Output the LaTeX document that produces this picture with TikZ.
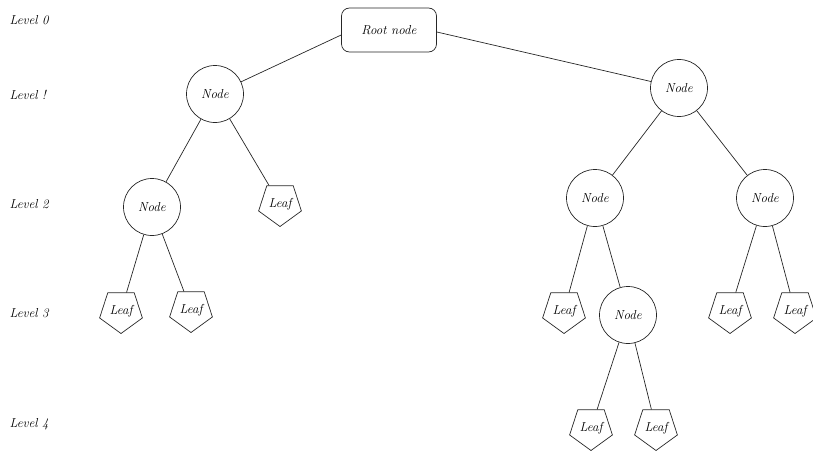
\documentclass[tikz,border=0pt]{standalone}
\usetikzlibrary{shapes.geometric,calc}
\begin{document}
\begin{tikzpicture}[x=1pt,y=-1pt,
  every node/.style={font=\fontsize{13}{15}\selectfont\itshape},
  treenode/.style={draw=black!85,line width=0.7pt,circle,minimum size=57pt,inner sep=0pt},
  leafnode/.style={draw=black!85,line width=0.7pt,regular polygon,regular polygon sides=5,shape border rotate=180,minimum size=45pt,inner sep=0pt},
  rootbox/.style={draw=black!85,line width=0.7pt,rounded corners=8pt,minimum width=95pt,minimum height=44pt,inner sep=0pt},
  lvl/.style={anchor=west},
  edge/.style={draw=black!85,line width=0.7pt}]
\useasboundingbox (0,0) rectangle (813,452);
% level labels
\node[lvl] (l0) at (6,20) {Level 0};
\node[lvl] (l1) at (6,95) {Level !};
\node[lvl] (l2) at (6,204) {Level 2};
\node[lvl] (l3) at (6,313) {Level 3};
\node[lvl] (l4) at (6,424) {Level 4};
% nodes
\node[rootbox] (root) at (389,30) {Root node};
\node[treenode] (a) at (215,94) {Node};
\node[treenode] (b) at (679,88) {Node};
\node[treenode] (aa) at (152,207) {Node};
\node[leafnode] (ab) at (280,204) {Leaf};
\node[treenode] (ba) at (595,198) {Node};
\node[treenode] (bb) at (765,198) {Node};
\node[leafnode] (aaa) at (121,311) {Leaf};
\node[leafnode] (aab) at (191,310) {Leaf};
\node[leafnode] (baa) at (564,311) {Leaf};
\node[treenode] (bab) at (628,315) {Node};
\node[leafnode] (bba) at (730,311) {Leaf};
\node[leafnode] (bbb) at (795,311) {Leaf};
\node[leafnode] (baba) at (591,428) {Leaf};
\node[leafnode] (babb) at (656,428) {Leaf};
% edges
\draw[edge] ([yshift=-5pt]root.west) -- (a);
\draw[edge] ([yshift=-2pt]root.east) -- (b);
\draw[edge] (a) -- (aa);
\draw[edge] (a) -- (ab);
\draw[edge] (b) -- (ba);
\draw[edge] (b) -- (bb);
\draw[edge] (aa) -- (aaa);
\draw[edge] (aa) -- (aab);
\draw[edge] (ba) -- (baa);
\draw[edge] (ba) -- (bab);
\draw[edge] (bb) -- (bba);
\draw[edge] (bb) -- (bbb);
\draw[edge] (bab) -- (baba);
\draw[edge] (bab) -- (babb);
\end{tikzpicture}
\end{document}
